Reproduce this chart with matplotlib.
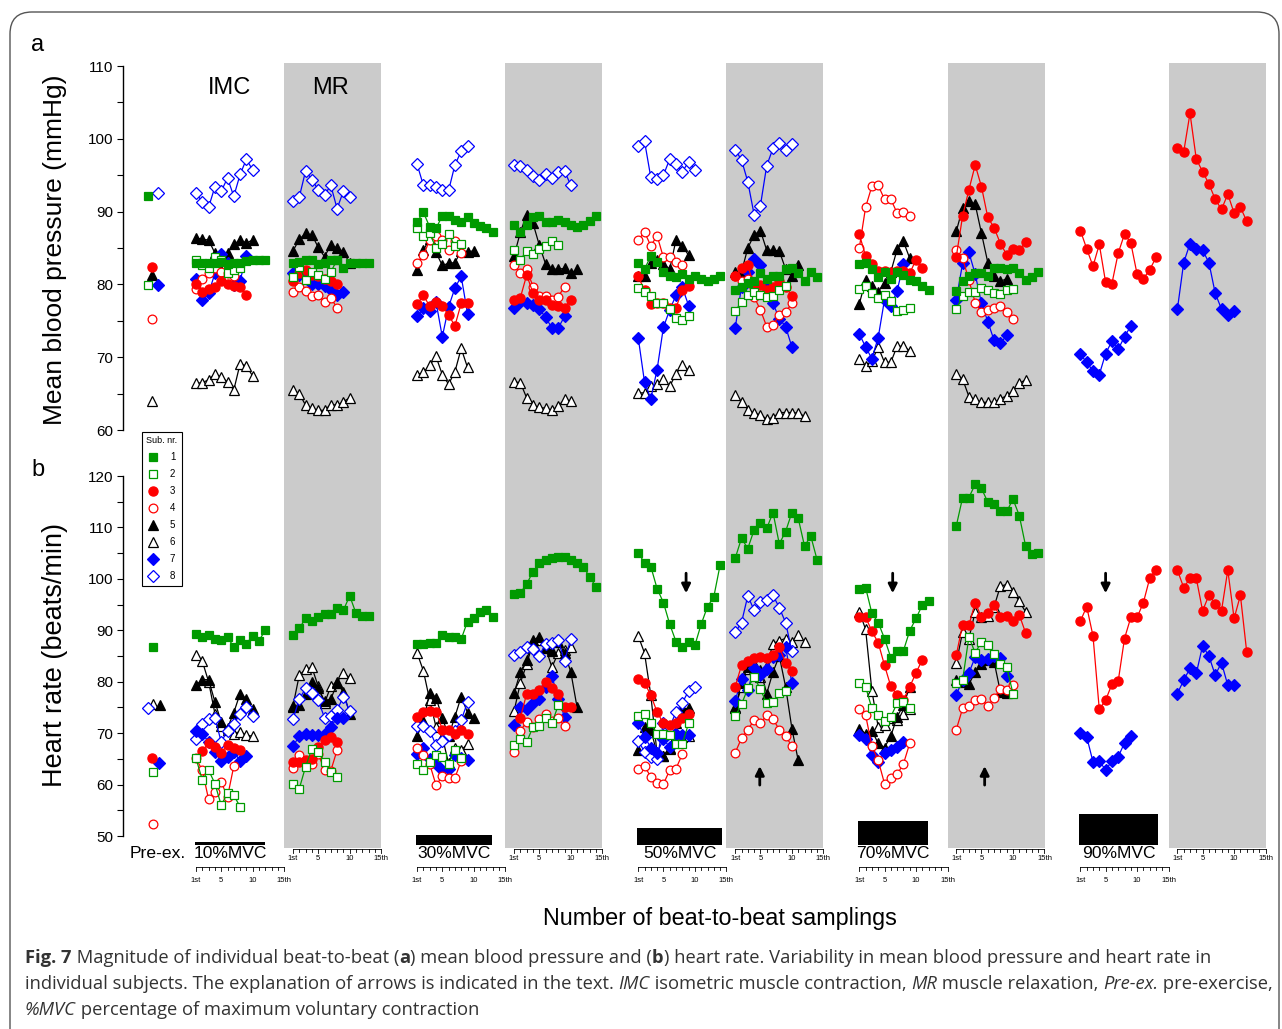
import numpy as np
import matplotlib
matplotlib.use("Agg")
import matplotlib.pyplot as plt
from matplotlib.lines import Line2D
from matplotlib.patches import Rectangle, FancyBboxPatch
from matplotlib.transforms import IdentityTransform
from matplotlib.ticker import MultipleLocator

nan = np.nan

# ---------------------------------------------------------------- data
subjects = ["1", "2", "3", "4", "5", "6", "7", "8"]
conditions = ["10%MVC", "30%MVC", "50%MVC", "70%MVC", "90%MVC"]
mvc_percent = [10, 30, 50, 70, 90]
sampling_ticks = [1, 5, 10, 15]
sampling_tick_labels = ["1st", "5", "10", "15th"]

preex_mbp = [92.2, 79.9, 82.4, 75.3, 81.3, 64.0, 79.9, 92.6]
preex_hr = [86.7, 62.5, 65.1, 52.3, 75.4, 75.6, 64.1, 74.9]

# Segment order: IMC10, MR10, IMC30, MR30, IMC50, MR50, IMC70, MR70, IMC90, MR90
mbp_s1 = [
    [82.9, 83.0, 82.9, 83.0, 83.1, 82.8, 82.9, 83.0, 83.2, 83.3, 83.4, 83.4],
    [82.9, 83.1, 83.4, 83.3, 82.8, 83.0, 83.4, 83.3, 82.3, 82.9, 82.9, 82.9, 82.9],
    [88.6, 89.9, 87.9, 87.7, 89.4, 89.4, 88.8, 88.6, 89.2, 88.4, 88.0, 87.7, 87.2],
    [88.1, 87.2, 88.1, 89.3, 89.4, 88.6, 88.6, 88.8, 88.6, 88.2, 87.9, 88.1, 88.7, 89.4],
    [82.9, 82.1, 83.9, 83.1, 81.7, 81.1, 81.0, 81.4, 80.8, 81.2, 80.8, 80.5, 80.8, 81.2],
    [79.2, 79.7, 80.2, 80.4, 81.5, 80.7, 81.1, 81.2, 82.1, 82.3, 81.5, 80.5, 81.7, 81.0],
    [82.8, 83.0, 82.1, 81.0, 81.7, 80.7, 81.7, 81.3, 80.6, 80.4, 79.8, 79.2],
    [79.1, 80.4, 81.2, 81.5, 81.5, 81.1, 82.2, 82.3, 82.1, 82.3, 81.5, 80.6, 81.0, 81.7],
    [],
    [],
]
mbp_s2 = [
    [83.4, 82.6, 82.2, 83.7, 83.4, 81.5, 82.0, 82.3],
    [81.0, 82.4, 80.6, 81.7, 81.3, 80.8, 81.7, 83.4],
    [87.7, 86.6, 87.0, 85.0, 85.5, 86.9, 85.3, 85.5],
    [84.7, 83.4, 84.6, 84.2, 84.8, 85.3, 86.0, 85.4],
    [79.5, 79.0, 78.4, 77.5, 77.5, 76.6, 75.4, 75.1, 75.7],
    [76.3, 77.6, 78.5, 79.0, 78.5, 78.3, 78.4, 79.2, 79.8],
    [79.3, 79.8, 78.8, 78.2, 78.5, 77.7, 76.4, 76.5, 76.7],
    [76.6, 78.4, 79.0, 79.0, 79.5, 79.2, 78.8, 78.7, 79.2, 79.3],
    [],
    [],
]
mbp_s3 = [
    [80.1, 79.0, 79.3, 79.7, 80.4, 80.1, 79.8, 79.6, 78.6],
    [80.4, 81.5, 82.0, 81.3, 81.1, 80.8, 80.5, 80.1],
    [77.3, 78.5, 77.0, 77.6, 77.0, 75.8, 74.3, 77.4, 77.5],
    [77.9, 78.2, 81.3, 78.8, 77.9, 77.9, 77.2, 77.0, 76.8, 77.9],
    [81.1, 79.2, 77.3, 77.4, 77.4, 76.8, 76.8, 79.2, 79.8],
    [81.2, 82.2, 82.6, 79.7, 79.9, 79.2, 79.6, 80.4, 79.7, 78.4],
    [86.9, 83.9, 82.8, 81.8, 81.9, 81.7, 81.9, 81.9, 81.5, 83.4, 82.3],
    [83.8, 89.4, 93.0, 96.4, 93.4, 89.2, 87.8, 85.6, 84.1, 84.8, 84.7, 85.8],
    [87.4, 84.9, 82.5, 85.5, 80.3, 80.1, 84.3, 86.9, 85.7, 81.4, 80.8, 82.0, 83.7],
    [98.8, 98.2, 103.5, 97.2, 95.5, 93.8, 91.7, 90.3, 92.4, 89.8, 90.6, 88.7],
]
mbp_s4 = [
    [79.3, 80.8, 81.5, 82.2, 81.7, 81.5, 81.2],
    [78.9, 79.6, 79.1, 78.4, 78.5, 77.6, 78.1, 76.8],
    [83.0, 84.0, 86.1, 86.6, 86.1, 84.7, 85.9, 84.3],
    [82.6, 81.5, 82.1, 79.7, 78.4, 78.4, 77.9, 78.3, 79.7],
    [86.1, 87.2, 85.3, 86.7, 83.7, 83.8, 83.1, 82.6],
    [81.1, 80.5, 80.7, 78.3, 76.5, 74.2, 74.4, 75.8, 76.2, 77.4],
    [85.0, 90.6, 93.5, 93.6, 91.7, 91.7, 89.8, 90.0, 89.4],
    [84.7, 83.6, 80.6, 77.5, 76.2, 76.5, 76.7, 77.0, 76.2, 75.2],
    [],
    [],
]
mbp_s5 = [
    [86.4, 86.2, 86.1, 84.3, 81.9, 84.3, 85.5, 86.1, 85.7, 86.1],
    [84.6, 86.2, 87.0, 86.8, 85.1, 83.8, 85.4, 85.0, 84.5, 82.9],
    [82.0, 84.7, 86.3, 84.4, 82.6, 82.9, 83.0, 84.6, 84.5, 84.6],
    [83.9, 87.2, 89.6, 88.4, 85.4, 82.8, 82.1, 82.1, 82.2, 81.5, 82.1],
    [81.1, 81.2, 83.0, 83.3, 82.8, 82.1, 86.1, 85.3, 84.0],
    [81.7, 81.7, 85.0, 86.8, 87.4, 84.7, 84.7, 84.6, 82.1, 81.1, 82.7],
    [77.3, 80.6, 79.8, 79.0, 80.2, 81.7, 84.8, 85.9, 83.6],
    [87.3, 90.5, 91.5, 91.0, 87.0, 83.0, 81.2, 80.4, 80.8],
    [],
    [],
]
mbp_s6 = [
    [66.4, 66.5, 66.9, 67.7, 67.3, 66.6, 65.5, 69.1, 68.8, 67.4],
    [65.5, 65.0, 63.4, 63.0, 62.7, 62.7, 63.5, 63.4, 63.9, 64.4],
    [67.6, 67.9, 68.9, 70.1, 67.6, 66.3, 68.0, 71.2, 68.6],
    [66.6, 66.5, 64.4, 63.4, 63.1, 63.0, 62.7, 63.3, 64.2, 64.0],
    [65.1, 65.1, 66.0, 66.3, 67.0, 66.0, 67.7, 68.9, 68.2],
    [64.8, 63.9, 62.8, 62.3, 62.1, 61.5, 61.7, 62.4, 62.4, 62.4, 62.3, 61.9],
    [69.8, 68.8, 69.5, 71.4, 69.3, 69.3, 71.5, 71.5, 70.9],
    [67.7, 67.0, 64.6, 64.2, 63.8, 63.8, 63.8, 64.3, 64.7, 65.4, 66.4, 66.9],
    [],
    [],
]
mbp_s7 = [
    [80.8, 77.9, 78.8, 81.5, 84.2, 82.9, 79.9, 80.5, 83.9],
    [81.6, 81.3, 81.3, 80.1, 80.1, 79.8, 79.2, 78.5, 78.9],
    [75.6, 76.7, 76.3, 77.6, 72.8, 76.9, 79.5, 81.1, 76.0],
    [76.7, 77.6, 77.4, 77.2, 76.6, 75.5, 74.0, 74.0, 75.6],
    [72.7, 66.6, 64.3, 68.3, 74.1, 76.5, 78.5, 79.6, 77.1],
    [74.0, 79.7, 81.7, 83.5, 82.6, 79.5, 77.4, 75.3, 74.2, 71.4],
    [73.2, 71.4, 69.8, 72.7, 77.9, 77.0, 79.1, 82.8],
    [77.9, 82.9, 84.4, 81.4, 77.4, 74.9, 72.3, 71.9, 73.0],
    [70.4, 69.3, 68.1, 67.6, 70.5, 72.2, 71.1, 72.8, 74.3],
    [76.6, 83.0, 85.6, 84.9, 84.7, 83.0, 78.8, 76.6, 75.8, 76.3],
]
mbp_s8 = [
    [92.6, 91.3, 90.6, 93.4, 92.8, 94.6, 92.1, 95.1, 97.2, 95.7],
    [91.4, 92.0, 95.6, 94.4, 93.0, 92.3, 93.6, 90.4, 92.8, 92.0],
    [96.5, 93.6, 93.7, 93.4, 93.0, 92.9, 96.4, 98.3, 99.0],
    [96.4, 96.3, 95.7, 94.9, 94.4, 95.1, 94.6, 95.4, 95.6, 93.6],
    [99.0, 99.7, 94.7, 94.5, 95.0, 97.2, 96.6, 95.5, 96.8, 95.7],
    [98.5, 97.1, 94.1, 89.6, 90.8, 96.3, 98.7, 99.4, 98.5, 99.3],
    [],
    [],
    [],
    [],
]

hr_s1 = [
    [89.3, 88.7, 89.1, 88.4, 88.1, 88.6, 86.8, 88.2, 87.4, 88.9, 88.0, 90.0],
    [89.1, 90.4, 92.3, 91.9, 92.6, 93.2, 93.2, 94.3, 93.9, 96.7, 93.3, 92.8, 92.8],
    [87.4, 87.4, 87.6, 87.6, 89.1, 88.7, 88.6, 88.3, 91.7, 92.3, 93.6, 93.9, 92.5],
    [97.0, 97.3, 99.0, 101.4, 103.0, 103.7, 104.1, 104.3, 104.3, 103.7, 103.0, 102.4, 100.3, 98.5],
    [105.1, 103.1, 102.4, 98.1, 95.4, 91.2, 87.8, 86.8, 87.8, 87.1, 91.2, 94.6, 96.5, 102.7],
    [104.0, 107.9, 105.9, 109.5, 110.8, 109.8, 112.9, 106.8, 109.2, 112.9, 111.8, 106.4, 108.3, 103.7],
    [98.0, 98.3, 93.3, 91.5, 88.4, 84.7, 86.0, 86.0, 89.9, 92.3, 94.9, 95.7],
    [110.3, 115.8, 115.8, 118.4, 117.6, 114.9, 114.6, 113.1, 113.1, 115.5, 112.3, 106.4, 104.8, 105.1],
    [],
    [],
]
hr_s2 = [
    [65.1, 60.9, 62.8, 60.2, 56.0, 58.3, 57.9, 55.7],
    [60.2, 59.2, 63.5, 67.0, 66.4, 64.4, 62.5, 61.4],
    [64.0, 62.9, 64.4, 65.7, 65.3, 64.0, 66.8, 65.1],
    [67.7, 68.8, 68.3, 71.2, 71.4, 72.9, 71.9, 75.4],
    [73.3, 73.8, 72.0, 69.8, 69.8, 69.6, 67.9, 67.9, 71.9],
    [73.3, 75.6, 78.7, 81.0, 78.5, 75.8, 76.0, 77.9, 78.2],
    [79.8, 79.0, 74.8, 73.5, 72.3, 73.2, 75.8, 76.0, 74.9],
    [79.8, 80.3, 88.7, 85.6, 87.8, 87.1, 85.4, 83.4, 82.8, 77.7],
    [],
    [],
]
hr_s3 = [
    [nan, 66.6, 68.0, 67.3, 66.2, 67.7, 67.2, 66.7],
    [64.4, 64.4, 64.7, 64.9, 67.3, 68.6, 69.2, 68.2],
    [73.2, 74.2, 74.3, 74.2, 70.7, 70.7, 69.8, 70.7, 69.8],
    [nan, 73.0, 77.7, 77.6, 78.4, 80.0, 78.8, 77.6, 75.1, 75.1],
    [80.5, 79.8, 77.4, 74.1, 71.9, 71.6, 71.9, 72.9, 73.8],
    [79.0, 83.2, 84.0, 84.7, 84.8, 84.7, 85.2, 86.7, 83.7, 82.1],
    [92.6, 92.6, 89.8, 87.6, 83.2, 79.1, 77.4, 76.5, 79.0, 81.7, 84.3],
    [85.2, 91.1, 91.0, 95.4, 92.5, 93.4, 94.9, 92.5, 92.8, 91.9, 93.0, 89.5],
    [91.8, 94.6, 88.9, 74.6, 76.4, 79.5, 80.1, 88.4, 92.5, 92.5, 95.4, 100.1, 101.8],
    [101.7, 98.3, 100.1, 100.1, 93.8, 96.8, 95.2, 93.8, 101.7, 92.3, 96.8, 85.8],
]
hr_s4 = [
    [65.1, 62.8, 57.1, 58.6, 60.5, 57.6, 63.6],
    [63.3, 65.7, 64.1, 64.0, 66.0, 62.8, 62.7, 66.7],
    [67.1, 65.8, 64.0, 59.9, 61.6, 61.3, 61.3, 64.6],
    [66.4, 70.5, 72.2, 71.2, 72.7, 73.8, 72.3, 72.9, 71.4],
    [63.1, 63.6, 61.5, 60.3, 60.1, 62.8, 63.1, 65.9],
    [66.2, 69.0, 70.7, 72.5, 71.9, 73.5, 72.7, 70.7, 69.4, 67.5],
    [74.6, 73.5, 67.5, 64.7, 60.2, 61.2, 62.0, 64.0, 68.0],
    [70.7, 74.8, 75.3, 76.4, 76.6, 75.3, 76.9, 78.5, 78.4, 79.3],
    [],
    [],
]
hr_s5 = [
    [79.3, 80.4, 80.4, 76.1, 72.2, 71.0, 74.0, 77.7, 76.6, 74.6],
    [75.0, 75.4, 77.7, 80.0, 78.7, 76.3, 76.6, 79.7, 78.0, 73.8],
    [69.4, 72.4, 77.9, 76.9, 73.0, 69.4, 73.2, 77.1, 74.0, 72.9],
    [77.8, 81.9, 84.3, 88.1, 88.7, 86.8, 86.0, 87.8, 85.6, 81.9, 75.0],
    [66.7, 71.2, 70.7, 66.0, 65.5, 67.0, 71.9, 74.8, 74.8],
    [74.8, 79.8, 82.9, 83.4, 82.3, 77.7, 81.9, 85.0, 79.0, 70.9, 64.7],
    [70.9, 69.9, 70.5, 68.0, 67.2, 69.4, 73.2, 75.4, 79.0],
    [80.4, 80.0, 79.5, 81.9, 83.4, 84.2, 83.9, 78.0, 77.9],
    [],
    [],
]
hr_s6 = [
    [85.2, 84.0, 80.0, 73.8, 71.4, 70.7, 69.9, 70.3, 69.6, 69.4],
    [75.3, 81.3, 82.4, 82.8, 79.1, 75.8, 79.1, 80.0, 81.6, 80.8],
    [85.6, 82.1, 76.4, 71.2, 69.3, 64.1, 67.2, 66.7, 67.9],
    [74.3, 79.8, 83.4, 87.6, 88.1, 86.6, 82.8, 85.6, 86.1, 86.8],
    [88.9, 85.6, 77.4, 66.0, 65.5, 67.2, 69.3, 69.3, 69.4],
    [75.0, 79.0, 82.5, 82.5, 81.0, 83.0, 87.4, 88.0, 88.4, 87.8, 89.1, 87.8],
    [93.6, 90.2, 78.2, 71.2, 71.6, 72.9, 72.5, 73.8, 74.6],
    [83.6, 89.7, 88.4, 93.6, 92.6, 92.8, 94.6, 98.6, 98.9, 97.5, 95.6, 93.6],
    [],
    [],
]
hr_s7 = [
    [70.5, 69.9, 68.3, 66.4, 64.6, 65.3, 66.4, 64.6, 65.5],
    [67.5, 69.4, 69.8, 69.6, 69.6, 69.8, 71.2, 73.0, 72.9],
    [65.9, 67.2, 64.9, 64.0, 62.8, 63.1, 65.7, 65.1, 64.7],
    [71.6, 75.0, 74.6, 75.8, 76.7, 79.0, 81.1, 76.7, 73.2],
    [71.9, 69.3, 67.2, 66.2, 68.8, 67.3, 69.9, 69.6, 69.6],
    [76.3, 80.5, 78.4, 82.6, 81.3, 82.5, 84.8, 85.2, 86.8, 79.7],
    [69.6, 68.8, 65.7, 64.4, 66.2, 66.7, 67.3, 68.3],
    [77.4, 80.4, 81.7, 84.8, 84.2, 84.5, 85.0, 84.7, 81.1],
    [70.1, 69.3, 64.4, 64.5, 62.9, 64.5, 65.4, 68.1, 69.5],
    [77.7, 80.3, 82.6, 81.6, 87.0, 85.0, 81.3, 83.7, 79.3, 79.3],
]
hr_s8 = [
    [68.8, 71.8, 72.7, 73.0, 68.3, 70.5, 71.8, 73.8, 75.0, 73.4],
    [72.7, 76.6, 78.7, 77.8, 76.4, 73.0, 73.3, 74.5, 77.1, 74.3],
    [71.4, 71.4, 70.5, 67.7, 68.4, 69.6, 70.5, 72.5, 76.0],
    [85.2, 85.8, 86.7, 86.3, 85.0, 87.4, 87.6, 88.1, 84.0, 88.3],
    [68.5, 66.4, 65.4, 64.9, 72.0, 71.2, 74.1, 75.9, 78.2, 79.0],
    [89.6, 91.5, 96.7, 93.9, 95.5, 95.9, 96.8, 94.4, 91.5, 85.9],
    [],
    [],
    [],
    [],
]

mbp_series = [mbp_s1, mbp_s2, mbp_s3, mbp_s4, mbp_s5, mbp_s6, mbp_s7, mbp_s8]
hr_series = [hr_s1, hr_s2, hr_s3, hr_s4, hr_s5, hr_s6, hr_s7, hr_s8]

# Arrows in the heart-rate panel: segment index, sampling position, direction
arrow_segment = [4, 5, 6, 7, 8]
arrow_sampling = [8.6, 4.9, 6.3, 5.5, 5.0]
arrow_down = [True, False, True, False, True]

# ---------------------------------------------------------------- styles
sub_color = ["#009a00", "#009a00", "#ff0000", "#ff0000",
             "#000000", "#000000", "#0000ff", "#0000ff"]
sub_marker = ["s", "s", "o", "o", "^", "^", "D", "D"]
sub_filled = [True, False, True, False, True, False, True, False]
sub_msize = [6.4, 6.4, 6.6, 6.3, 7.0, 7.0, 6.4, 6.4]
draw_order = [5, 4, 7, 6, 3, 2, 1, 0]

plt.rcParams["font.family"] = ["Liberation Sans", "DejaVu Sans"]

# ---------------------------------------------------------------- layout
W, H, DPI = 1282, 1029, 100
PX_PER_SAMPLE = 6.3
FIRST_PX = 196.0


def px_to_x(px):
    return 1 + (px - FIRST_PX) / PX_PER_SAMPLE


XMIN = px_to_x(0)
XMAX = px_to_x(W)
BLOCK = 221.1 / PX_PER_SAMPLE
MR_SHIFT = 97.0 / PX_PER_SAMPLE
YAXIS_X = px_to_x(123)
PRE_X = px_to_x(152)
pre_dx_mbp = [-0.6, -0.6, 0.0, 0.0, 0.0, 0.0, 1.0, 1.0]
pre_dx_hr = [0.2, 0.2, 0.0, 0.2, 1.2, 0.2, 1.1, -0.6]


def seg_x0(j):
    return (j // 2) * BLOCK + (MR_SHIFT if j % 2 else 0.0)


fig = plt.figure(figsize=(W / DPI, H / DPI), dpi=DPI)
fig.patch.set_facecolor("white")

ov = fig.add_axes([0, 0, 1, 1], zorder=0)
ov.set_xlim(XMIN, XMAX)
ov.set_ylim(H, 0)
ov.axis("off")


def panel_axes(top_px, bottom_px):
    ax = fig.add_axes([0, 1 - bottom_px / H, 1, (bottom_px - top_px) / H], zorder=2)
    ax.patch.set_alpha(0)
    ax.set_xlim(XMIN, XMAX)
    for sp in ("top", "right", "bottom"):
        ax.spines[sp].set_visible(False)
    ax.spines["left"].set_position(("data", YAXIS_X))
    ax.spines["left"].set_linewidth(1.0)
    ax.xaxis.set_visible(False)
    ax.yaxis.set_major_locator(MultipleLocator(10))
    ax.yaxis.set_minor_locator(MultipleLocator(5))
    ax.tick_params(axis="y", which="both", direction="out", length=4,
                   width=0.8, labelsize=11, pad=3)
    return ax


ax_a = panel_axes(66, 430)
ax_a.set_ylim(60, 110)
ax_b = panel_axes(476, 836)
ax_b.set_ylim(50, 120)

# grey background of the relaxation periods
for k in range(len(conditions)):
    ov.add_patch(Rectangle((k * BLOCK + 15, 63), MR_SHIFT, 848 - 63,
                           facecolor="#cbcbcb", edgecolor="none", zorder=0))


def style(s):
    return dict(color=sub_color[s], marker=sub_marker[s], markersize=sub_msize[s],
                markerfacecolor=sub_color[s] if sub_filled[s] else "white",
                markeredgecolor=sub_color[s], markeredgewidth=0.9, linewidth=0.9)


def draw_panel(ax, series, preex, pre_dx):
    for s in draw_order:
        st = style(s)
        for j, vals in enumerate(series[s]):
            if len(vals) == 0:
                continue
            x = seg_x0(j) + np.arange(1, len(vals) + 1)
            ax.plot(x, vals, **st, clip_on=False)
        ax.plot([PRE_X + pre_dx[s]], [preex[s]], linestyle="none",
                **{k: v for k, v in st.items() if k != "linewidth"}, clip_on=False)


draw_panel(ax_a, mbp_series, preex_mbp, pre_dx_mbp)
draw_panel(ax_b, hr_series, preex_hr, pre_dx_hr)

# arrows in the heart-rate panel
for seg, smp, down in zip(arrow_segment, arrow_sampling, arrow_down):
    xa = seg_x0(seg) + smp
    if down:
        tail, tip = 101.1, 97.2
    else:
        tail, tip = 59.9, 63.6
    ax_b.annotate("", xy=(xa, tip), xytext=(xa, tail),
                  arrowprops=dict(arrowstyle="-|>", color="black", lw=2.0,
                                  mutation_scale=13, shrinkA=0, shrinkB=0))

# exercise intensity bars, condition labels and sampling mini axes
bar_length = [11.1, 12.1, 13.5, 11.1, 12.4]
for k, (cond, pct) in enumerate(zip(conditions, mvc_percent)):
    x0 = k * BLOCK
    hgt = pct * 0.34
    ov.add_patch(Rectangle((x0 + 0.85, 845 - hgt), bar_length[k], hgt,
                           facecolor="black", edgecolor="none", zorder=1))
    ov.text(x0 + 0.85 + bar_length[k] / 2, 853, cond, ha="center", va="center",
            fontsize=12.6)
    for xs0, y_line, y_lab in ((x0, 867, 881), (x0 + MR_SHIFT, 849, 858)):
        xs = xs0 + np.arange(1, 16)
        ov.plot([xs[0], xs[-1]], [y_line, y_line], color="black", lw=0.6)
        for i, xv in enumerate(xs, start=1):
            ln = 4.0 if i in sampling_ticks else 2.8
            ov.plot([xv, xv], [y_line, y_line + ln], color="black", lw=0.6)
        for t, lab in zip(sampling_ticks, sampling_tick_labels):
            ov.text(xs0 + t, y_lab, lab, ha="center", va="center", fontsize=5.5)

ov.text(px_to_x(158), 853, "Pre-ex.", ha="center", va="center", fontsize=12.6)
ov.text(px_to_x(230), 88, "IMC", ha="center", va="center", fontsize=17)
ov.text(px_to_x(330), 88, "MR", ha="center", va="center", fontsize=17)

ID = IdentityTransform()
fig.text(38, H - 45, "a", transform=ID, ha="center", va="center", fontsize=17)
fig.text(38, H - 470, "b", transform=ID, ha="center", va="center", fontsize=17)
fig.text(55, H - 250, "Mean blood pressure (mmHg)", transform=ID, rotation=90,
         ha="center", va="center", fontsize=19)
fig.text(55, H - 655, "Heart rate (beats/min)", transform=ID, rotation=90,
         ha="center", va="center", fontsize=19.5)
fig.text(720, H - 918, "Number of beat-to-beat samplings", transform=ID,
         ha="center", va="center", fontsize=16.8)

# legend of subjects
handles = [Line2D([], [], linestyle="none", marker=sub_marker[s],
                  markersize=sub_msize[s], color=sub_color[s],
                  markerfacecolor=sub_color[s] if sub_filled[s] else "white",
                  markeredgewidth=0.9) for s in range(8)]
leg = fig.legend(handles, subjects, title="Sub. nr.", loc="upper left",
                 bbox_to_anchor=(142 / W, 1 - 432 / H), fontsize=7,
                 title_fontsize=6.5, frameon=True, fancybox=False,
                 edgecolor="black", framealpha=1, borderpad=0.45,
                 handlelength=1.0, handletextpad=1.2, labelspacing=0.72,
                 borderaxespad=0)
leg.get_frame().set_linewidth(0.8)
leg.set_zorder(5)

# outer frame
fig.add_artist(FancyBboxPatch((10, -40), 1269, H - 12 + 40,
                              boxstyle="round,pad=0,rounding_size=22",
                              transform=ID, facecolor="none",
                              edgecolor="#555555", linewidth=1.0))

# caption
renderer = fig.canvas.get_renderer()
CAP_FONT = "Open Sans"
CAP_SIZE = 13.2
CAP_COLOR = "#333333"


def run_width(text, **kw):
    t1 = fig.text(0, 0, "|" + text + "|", **kw)
    t2 = fig.text(0, 0, "||", **kw)
    w = t1.get_window_extent(renderer).width - t2.get_window_extent(renderer).width
    t1.remove()
    t2.remove()
    return w


def caption_line(runs, y_px, x_px=25):
    x = x_px
    for text, weight, fstyle in runs:
        kw = dict(fontsize=CAP_SIZE, family=CAP_FONT, fontweight=weight,
                  fontstyle=fstyle, color=CAP_COLOR)
        fig.text(x, H - y_px, text, transform=ID, ha="left", va="center", **kw)
        x += run_width(text, **kw)


caption_line([("Fig. 7", "bold", "normal"),
              (" Magnitude of individual beat-to-beat (", "normal", "normal"),
              ("a", "bold", "normal"),
              (") mean blood pressure and (", "normal", "normal"),
              ("b", "bold", "normal"),
              (") heart rate. Variability in mean blood pressure and heart rate in",
               "normal", "normal")], 958)
caption_line([("individual subjects. The explanation of arrows is indicated in the text. ",
               "normal", "normal"),
              ("IMC", "normal", "italic"),
              (" isometric muscle contraction, ", "normal", "normal"),
              ("MR", "normal", "italic"),
              (" muscle relaxation, ", "normal", "normal"),
              ("Pre-ex.", "normal", "italic"),
              (" pre-exercise,", "normal", "normal")], 984)
caption_line([("%MVC", "normal", "italic"),
              (" percentage of maximum voluntary contraction", "normal", "normal")], 1010)

fig.savefig("out.png", dpi=DPI)
